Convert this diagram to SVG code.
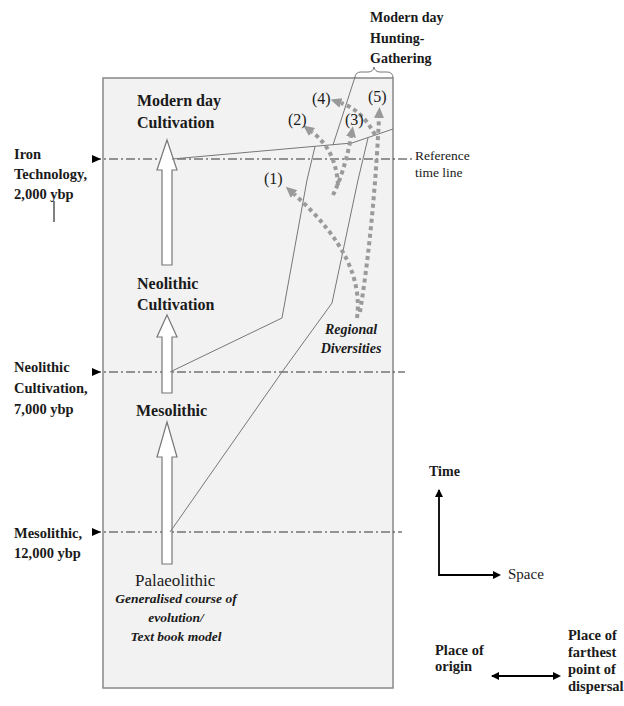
<svg xmlns="http://www.w3.org/2000/svg" width="624" height="706" viewBox="0 0 624 706">
<style>
text{font-family:"Liberation Serif","Times New Roman",serif;fill:#1a1a1a}
.b{font-weight:bold}
.bi{font-weight:bold;font-style:italic}
.lab{font-size:14.5px;font-weight:bold}
.nd{font-size:16px;font-weight:bold}
.num{font-size:16px}
.dd{stroke:#333;stroke-width:1.2;stroke-dasharray:9 3 2 3;fill:none}
.thin{stroke:#777;stroke-width:1;fill:none}
.dots{stroke:#9a9a9a;stroke-width:4;stroke-dasharray:4 3.5;fill:none;marker-end:url(#ga)}
.blk{fill:#fff;stroke:#777;stroke-width:1.2}
.ax{stroke:#000;stroke-width:1.8;fill:none}
</style>
<defs>
<marker id="ga" markerUnits="userSpaceOnUse" markerWidth="12" markerHeight="12" refX="0" refY="5" orient="auto"><path d="M0,0 L11,5 L0,10 Z" fill="#999"/></marker>
<marker id="ka" markerUnits="userSpaceOnUse" markerWidth="10" markerHeight="10" refX="1" refY="4" orient="auto"><path d="M0,0 L8,4 L0,8 Z" fill="#000"/></marker>
<marker id="ks" markerUnits="userSpaceOnUse" markerWidth="10" markerHeight="10" refX="7" refY="4" orient="auto-start-reverse"><path d="M0,0 L8,4 L0,8 Z" fill="#000"/></marker>
</defs>

<g id="frame">
<rect x="103" y="78" width="290" height="610" fill="#f2f2f2" stroke="#888" stroke-width="1.5"/>
</g>

<g id="timelines">
<line class="dd" x1="92" y1="159" x2="413" y2="159"/>
<line class="dd" x1="92" y1="372" x2="405" y2="372"/>
<line class="dd" x1="92" y1="532" x2="402" y2="532"/>
<polygon points="92,155 101,159 92,163" fill="#000"/>
<polygon points="92,368 101,372 92,376" fill="#000"/>
<polygon points="92,528 101,532 92,536" fill="#000"/>
<line x1="54" y1="201" x2="54" y2="222" stroke="#000" stroke-width="1"/>
</g>

<g id="left-labels">
<text class="lab" x="14" y="159">Iron</text>
<text class="lab" x="14" y="179">Technology,</text>
<text class="lab" x="14" y="199">2,000 ybp</text>
<text class="lab" x="14" y="372">Neolithic</text>
<text class="lab" x="14" y="393">Cultivation,</text>
<text class="lab" x="14" y="414">7,000 ybp</text>
<text class="lab" x="14" y="538">Mesolithic,</text>
<text class="lab" x="14" y="558">12,000 ybp</text>
</g>

<g id="connectors">
<polygon class="blk" points="167,140 177,170 172,170 172,265 162,265 162,170 157,170"/>
<polygon class="blk" points="167,315 177,337 172,337 172,393 162,393 162,337 157,337"/>
<polygon class="blk" points="167,422 177,457 172,457 172,564 162,564 162,457 157,457"/>
<polyline class="thin" points="172,159 352,143 393,129"/>
<polyline class="thin" points="170,372 282,318 307,180 315,146.5"/>
<polyline class="thin" points="333,145 355,77"/>
<polyline class="thin" points="170,532 282,372 332,303 358,180 368,138"/>
<path class="dots" d="M357,318 C362,280 345,240 294,194"/>
<path class="dots" d="M360,312 C370,250 376,180 379,118"/>
<path class="dots" d="M375,135 Q362,110 341,103"/>
<path class="dots" d="M333,195 Q345,170 351,137"/>
<path class="dots" d="M338,185 Q336,150 312,132"/>
<path d="M355,78 Q355,72 361,72 L368,72 Q373,72 374,67 Q375,72 380,72 L387,72 Q393,72 393,78" fill="none" stroke="#777" stroke-width="1"/>
</g>

<g id="node-modern-cultivation">
<text class="nd" x="137" y="106">Modern day</text>
<text class="nd" x="137" y="128">Cultivation</text>
</g>
<g id="node-neolithic">
<text class="nd" x="137" y="289">Neolithic</text>
<text class="nd" x="137" y="310">Cultivation</text>
</g>
<g id="node-mesolithic">
<text class="nd" x="136" y="416">Mesolithic</text>
</g>
<g id="node-palaeolithic">
<text x="135" y="586" font-size="17">Palaeolithic</text>
<text class="bi" x="176" y="603" font-size="13.5" text-anchor="middle">Generalised course of</text>
<text class="bi" x="176" y="622" font-size="13.5" text-anchor="middle">evolution/</text>
<text class="bi" x="176" y="641" font-size="13.5" text-anchor="middle">Text book model</text>
</g>
<g id="node-hunting">
<text class="b" x="370" y="22" font-size="14">Modern day</text>
<text class="b" x="370" y="43" font-size="14">Hunting-</text>
<text class="b" x="370" y="63" font-size="14">Gathering</text>
</g>
<g id="node-reference">
<text x="415" y="160" font-size="13.5">Reference</text>
<text x="415" y="177" font-size="13.5">time line</text>
</g>
<g id="node-numbers">
<text class="num" x="264" y="184">(1)</text>
<text class="num" x="288" y="125">(2)</text>
<text class="num" x="345" y="125">(3)</text>
<text class="num" x="312" y="104">(4)</text>
<text class="num" x="368" y="102">(5)</text>
</g>
<g id="node-regional">
<text class="bi" x="351" y="334" font-size="14" text-anchor="middle">Regional</text>
<text class="bi" x="351" y="353" font-size="14" text-anchor="middle">Diversities</text>
</g>

<g id="legend">
<text class="b" x="429" y="476" font-size="14">Time</text>
<polyline class="ax" points="439,490 439,575 494,575" marker-end="url(#ka)" marker-start="url(#ks)"/>
<text x="508" y="579" font-size="15">Space</text>
<text class="b" x="435" y="655" font-size="14.5">Place of</text>
<text class="b" x="435" y="671" font-size="14.5">origin</text>
<line class="ax" x1="492" y1="676" x2="554" y2="676" marker-end="url(#ka)" marker-start="url(#ks)"/>
<text class="b" x="568" y="640" font-size="14.5">Place of</text>
<text class="b" x="568" y="657" font-size="14.5">farthest</text>
<text class="b" x="568" y="674" font-size="14.5">point of</text>
<text class="b" x="568" y="691" font-size="14.5">dispersal</text>
</g>
</svg>
